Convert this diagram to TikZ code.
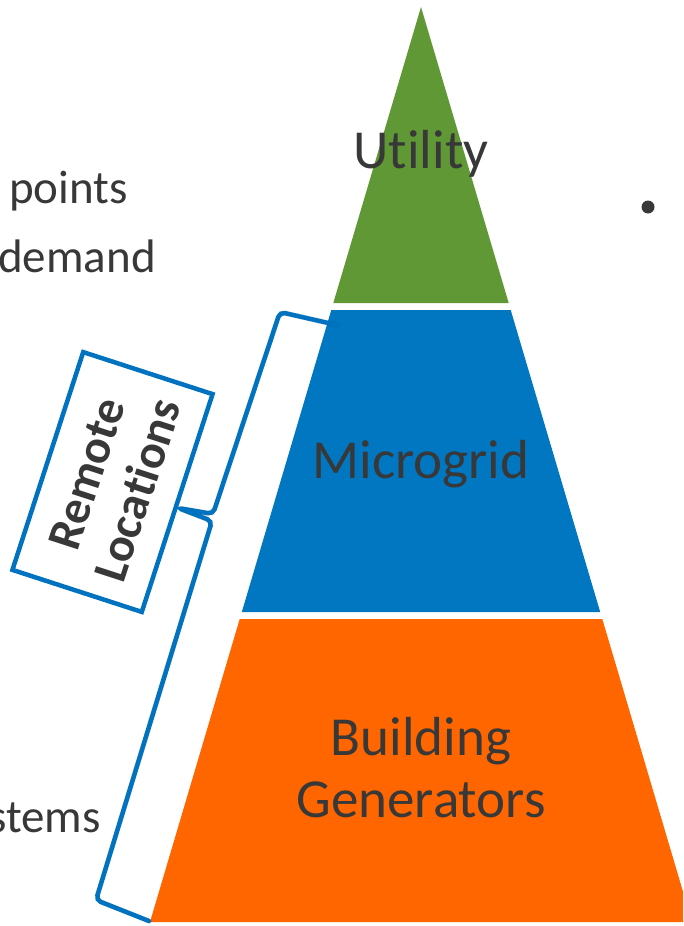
\documentclass[tikz,border=0pt]{standalone}
\usepackage{fontspec}
\setmainfont{Carlito}[Ligatures=NoCommon]
\definecolor{txtgray}{HTML}{383838}
\definecolor{utilgreen}{HTML}{5F9834}
\definecolor{microblue}{HTML}{0077C0}
\definecolor{bracketblue}{HTML}{0072C0}
\definecolor{genorange}{HTML}{FF6600}
\begin{document}
\begin{tikzpicture}[x=1pt,y=-1pt,
  tiertext/.style={text=txtgray,font=\fontsize{55}{62}\selectfont,align=center,inner sep=0pt},
  sidetext/.style={text=txtgray,font=\fontsize{47}{55}\selectfont,inner sep=0pt},
  bluebox/.style={draw=bracketblue,line width=4.5pt,fill=white,rotate=72,minimum width=229pt,minimum height=136pt,inner sep=0pt,
    text=txtgray,font=\bfseries\fontsize{48}{54}\selectfont,align=center},
  bracketline/.style={draw=bracketblue,line width=4.5pt,rounded corners=5pt,line cap=round}]
\useasboundingbox (0,0) rectangle (683,926);
\clip (0,0) rectangle (683,926);
% pyramid tiers
\fill[utilgreen] (421,7) -- (508.7,303) -- (333.3,303) -- cycle;
\fill[microblue] (331.3,310) -- (510.7,310) -- (600.2,612) -- (241.8,612) -- cycle;
\fill[genorange] (239.7,619) -- (602.3,619) -- (692,922) -- (150,922) -- cycle;
\node[tiertext,anchor=base] (util) at (421,168) {Ut\kern0pt ility};
\node[tiertext,anchor=base] (micro) at (421,478) {Microgrid};
\node[tiertext,anchor=base] (build) at (421,755) {Building};
\node[tiertext,anchor=base] (gen) at (421,817) {Generators};
% side texts
\node[sidetext,anchor=base west] (points) at (9,203) {points};
\node[sidetext,anchor=base west] (demand) at (-2,272) {demand};
\node[sidetext,anchor=base east] (stems) at (101,832) {stems};
\fill[txtgray] (648,207) circle (6.5pt);
% bracket coordinates
\coordinate (btop) at (337,325);
\coordinate (btc) at (280,312);
\coordinate (bmc1) at (213,514);
\coordinate (btip) at (178,508);
\coordinate (bmc2) at (212,521);
\coordinate (bbc) at (96,900);
\coordinate (bbot) at (149,921);
% shadow
\draw[bracketline,draw=black,opacity=0.12,line width=5pt,shift={(2,3)}] (btop) -- (btc) -- (bmc1) -- (btip) -- (bmc2) -- (bbc) -- (bbot);
\draw[bracketline] (btop) -- (btc) -- (bmc1) -- (btip) -- (bmc2) -- (bbc) -- (bbot);
% label box
\node[bluebox] (remote) at (112.5,482) {Remote\\Loca\kern0pt tions};
\end{tikzpicture}
\end{document}
